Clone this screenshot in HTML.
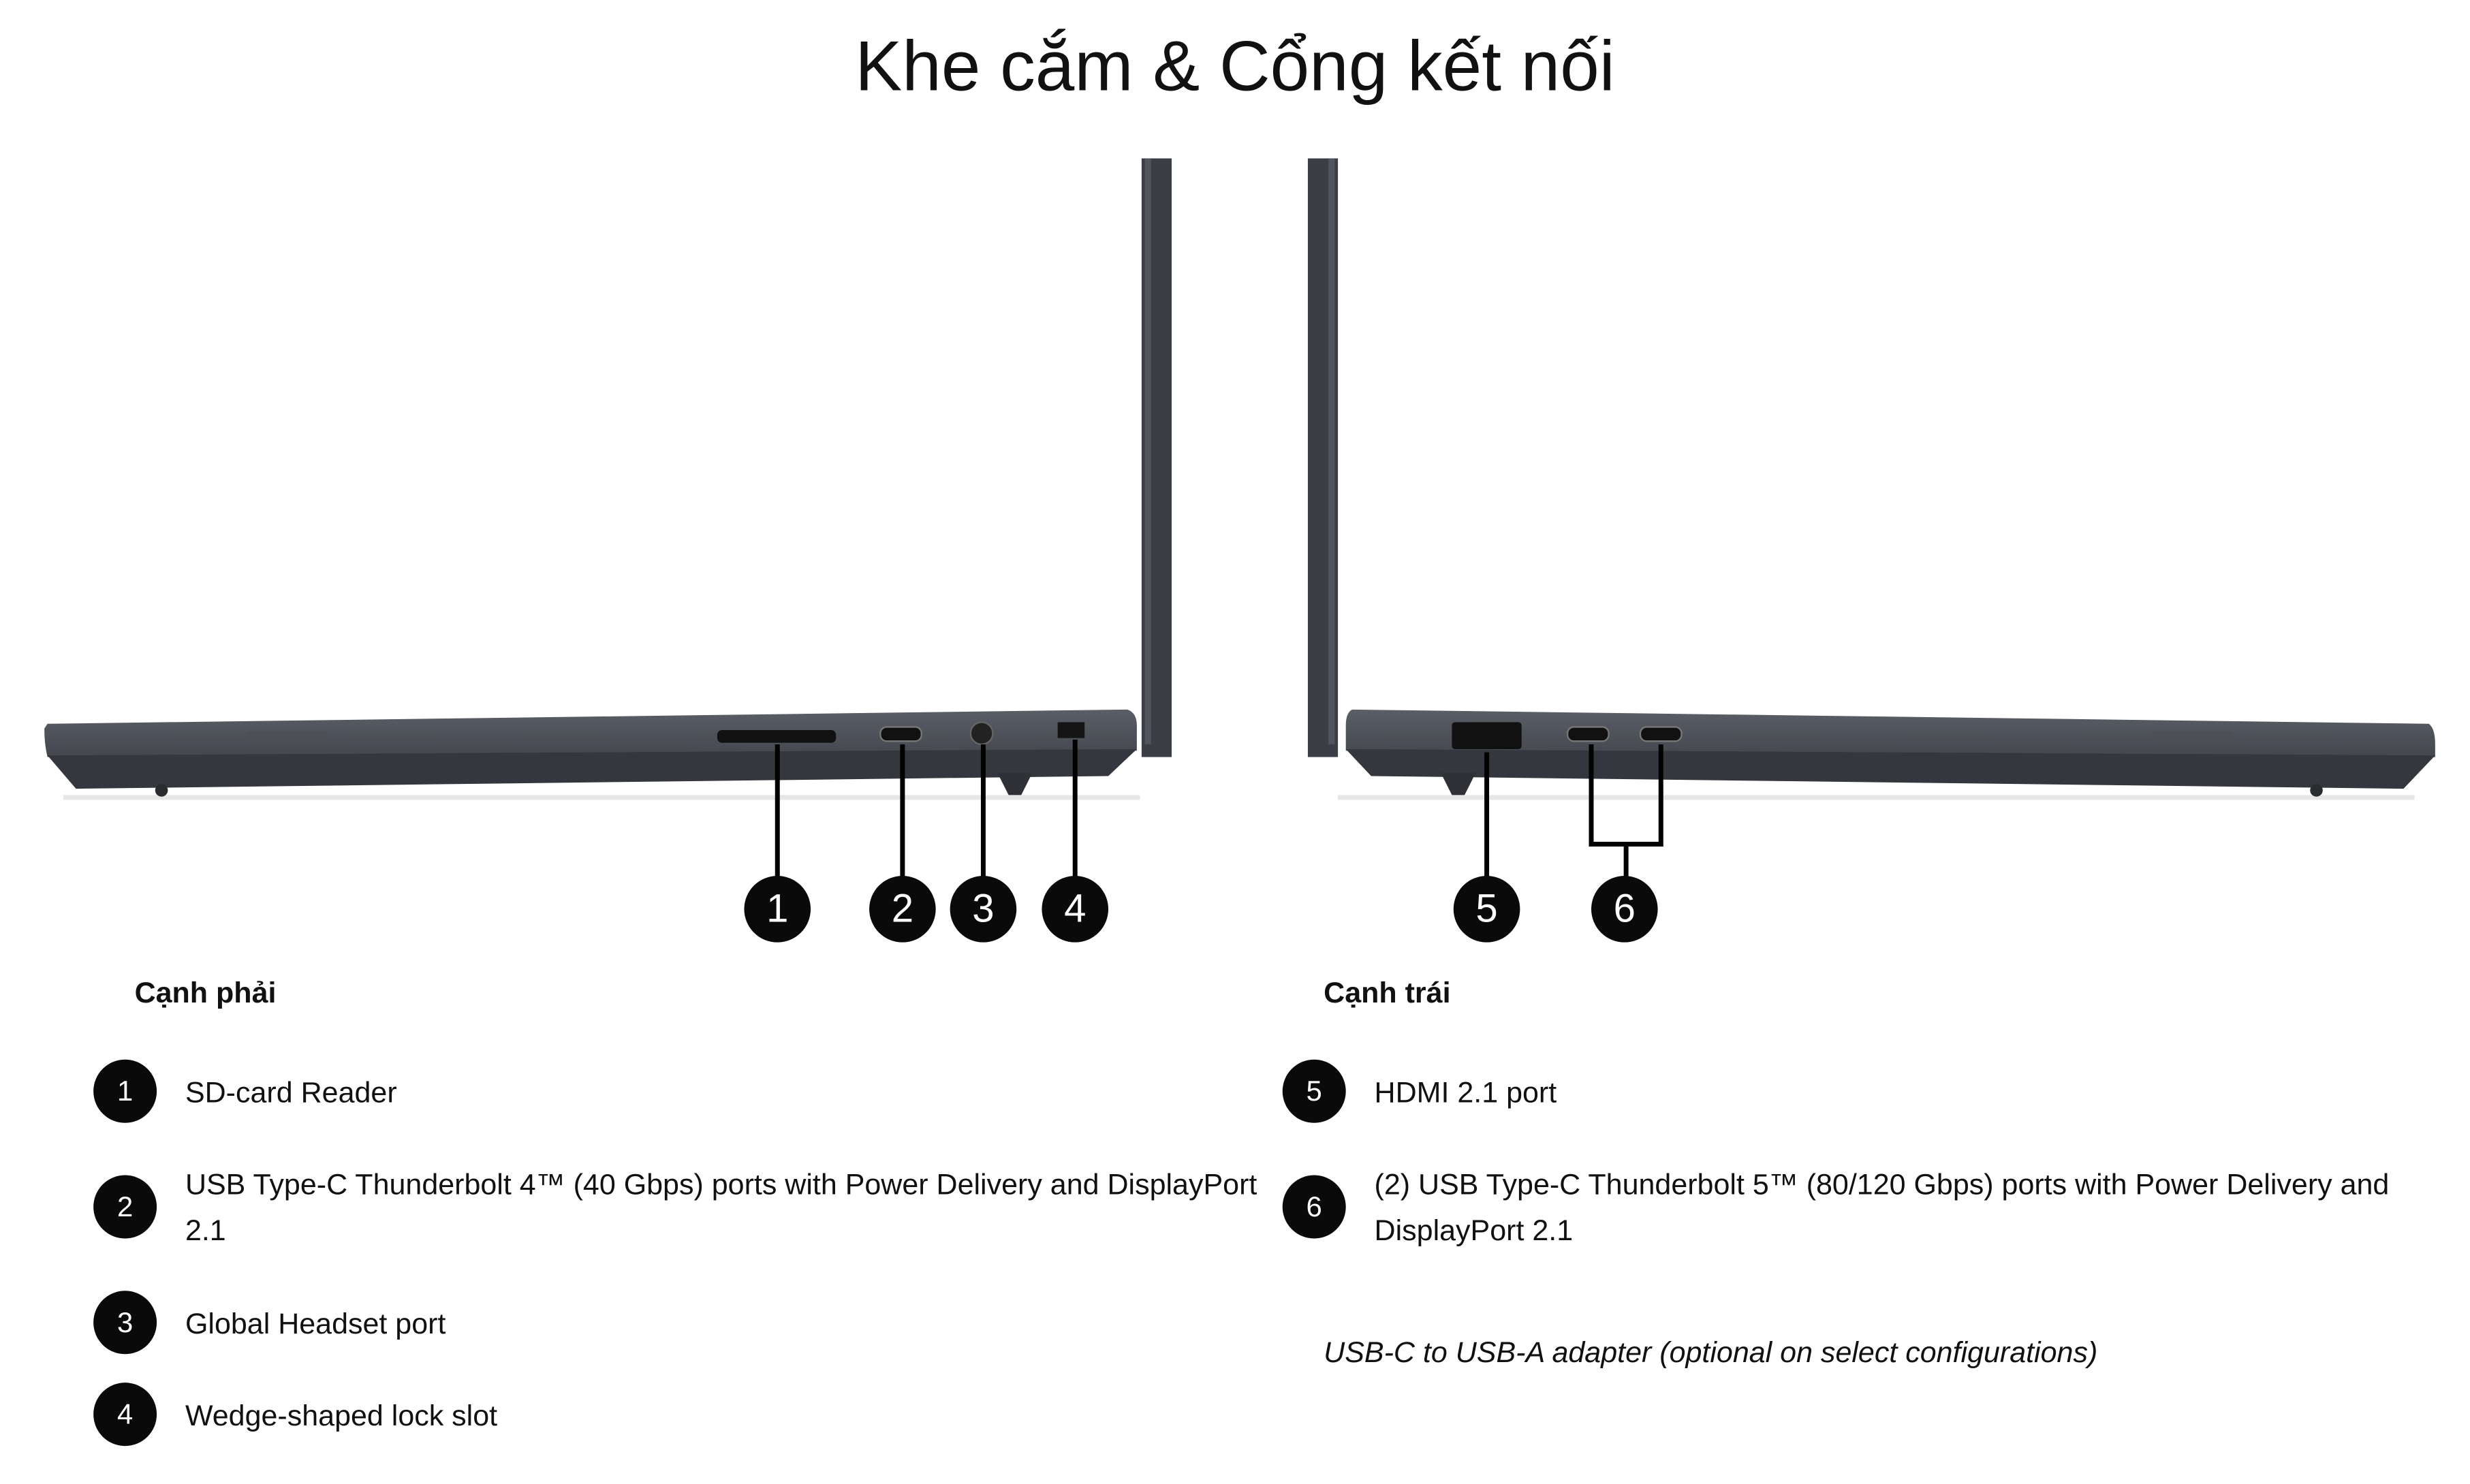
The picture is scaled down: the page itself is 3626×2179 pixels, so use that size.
<!DOCTYPE html>
<html><head><meta charset="utf-8">
<style>
html,body{margin:0;padding:0;background:#fff;overflow:hidden;}
#w{position:absolute;left:0;top:0;width:1560px;height:937px;transform-origin:0 0;transform:scale(2.32436,2.32551);font-family:"Liberation Sans","Noto Sans CJK SC",sans-serif;color:#111;}
.t{position:absolute;white-space:nowrap;font-size:18.5px;line-height:29px;}
.c{position:absolute;width:40px;height:40px;border-radius:50%;background:#0a0a0a;color:#fff;font-size:18px;line-height:40px;text-align:center;}
.b{position:absolute;width:42px;height:42px;border-radius:50%;background:#0a0a0a;color:#fff;font-size:25px;line-height:42px;text-align:center;}
</style></head><body><div id="w">
<div style="position:absolute;left:0;width:1560px;top:14px;text-align:center;font-size:44.5px;line-height:58px;color:#111;">Khe cắm &amp; Cổng kết nối</div>
<svg width="1560" height="937" style="position:absolute;left:0;top:0">
<defs><linearGradient id="g" x1="0" y1="0" x2="0" y2="1"><stop offset="0" stop-color="#5a5e66"/><stop offset="1" stop-color="#44474e"/></linearGradient></defs>
<!-- left laptop -->
<rect x="40" y="502" width="680" height="3" fill="#e6e6e6"/>
<rect x="721" y="100" width="19" height="378" fill="#3b3e44"/>
<rect x="723" y="100" width="4" height="370" fill="#50545b"/>
<path d="M30 457 L712 448 Q718 450 718 458 L718 474 L30 478 Q28 470 28 460 Z" fill="url(#g)"/>
<path d="M30 477 L718 473 L700 490 L48 498 Z" fill="#34373d"/>
<circle cx="102" cy="499" r="4" fill="#2a2c30"/>
<path d="M630 488 L652 488 L645 502 L637 502 Z" fill="#2f3136"/>
<rect x="156" y="462" width="50" height="7" fill="#4c4f56"/>
<rect x="453" y="461" width="75" height="8" rx="3" fill="#111"/>
<rect x="556" y="459" width="26" height="9" rx="4" fill="#111" stroke="#777" stroke-width="1"/>
<circle cx="620" cy="463" r="7" fill="#222" stroke="#666"/>
<rect x="668" y="456" width="17" height="10" fill="#151515"/>
<g stroke="#000" stroke-width="3">
<line x1="491" y1="470" x2="491" y2="555"/><line x1="570" y1="470" x2="570" y2="555"/>
<line x1="621" y1="470" x2="621" y2="555"/><line x1="679" y1="467" x2="679" y2="555"/>
</g>
<!-- right laptop -->
<rect x="845" y="502" width="680" height="3" fill="#e6e6e6"/>
<rect x="826" y="100" width="19" height="378" fill="#3b3e44"/>
<rect x="839" y="100" width="4" height="370" fill="#50545b"/>
<path d="M854 448 L1534 457 Q1538 460 1538 470 L1538 478 L850 474 L850 458 Q850 450 854 448 Z" fill="url(#g)"/>
<path d="M850 473 L1538 477 L1518 498 L866 490 Z" fill="#34373d"/>
<circle cx="1463" cy="499" r="4" fill="#2a2c30"/>
<path d="M910 488 L932 488 L925 502 L917 502 Z" fill="#2f3136"/>
<rect x="1360" y="462" width="50" height="7" fill="#4c4f56"/>
<rect x="917" y="456" width="44" height="17" rx="2" fill="#111"/>
<rect x="990" y="459" width="26" height="9" rx="4" fill="#111" stroke="#777"/>
<rect x="1036" y="459" width="26" height="9" rx="4" fill="#111" stroke="#777"/>
<g stroke="#000" stroke-width="3" fill="none">
<line x1="939" y1="475" x2="939" y2="555"/>
<path d="M1005 470 L1005 533 L1049 533 L1049 470"/>
<line x1="1027" y1="533" x2="1027" y2="555"/>
</g>
</svg>
<div class="b" style="left:470px;top:553px">1</div>
<div class="b" style="left:549px;top:553px">2</div>
<div class="b" style="left:600px;top:553px">3</div>
<div class="b" style="left:658px;top:553px">4</div>
<div class="b" style="left:918px;top:553px">5</div>
<div class="b" style="left:1005px;top:553px">6</div>
<div class="t" style="left:85px;top:612px;font-weight:bold">Cạnh phải</div>
<div class="t" style="left:836px;top:612px;font-weight:bold">Cạnh trái</div>
<div class="c" style="left:59px;top:669px">1</div>
<div class="t" style="left:117px;top:675px">SD-card Reader</div>
<div class="c" style="left:59px;top:742px">2</div>
<div class="t" style="left:117px;top:733px">USB Type-C Thunderbolt 4™ (40 Gbps) ports with Power Delivery and DisplayPort<br>2.1</div>
<div class="c" style="left:59px;top:815px">3</div>
<div class="t" style="left:117px;top:821px">Global Headset port</div>
<div class="c" style="left:59px;top:873px">4</div>
<div class="t" style="left:117px;top:879px">Wedge-shaped lock slot</div>
<div class="c" style="left:810px;top:669px">5</div>
<div class="t" style="left:868px;top:675px">HDMI 2.1 port</div>
<div class="c" style="left:810px;top:742px">6</div>
<div class="t" style="left:868px;top:733px">(2) USB Type-C Thunderbolt 5™ (80/120 Gbps) ports with Power Delivery and<br>DisplayPort 2.1</div>
<div class="t" style="left:836px;top:839px;font-style:italic">USB-C to USB-A adapter (optional on select configurations)</div>
</div></body></html>
